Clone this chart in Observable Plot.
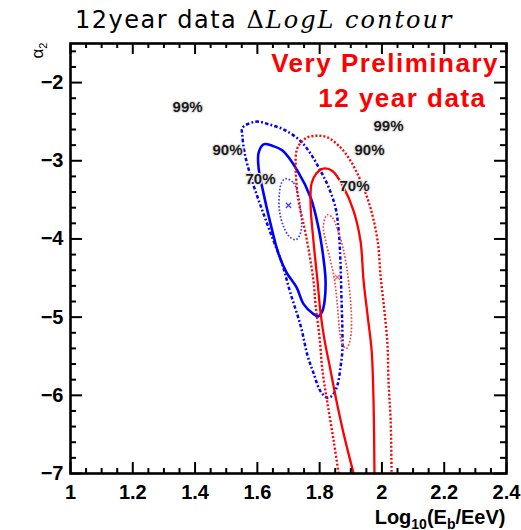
<!DOCTYPE html>
<html><head><meta charset="utf-8">
<script src="https://cdn.jsdelivr.net/npm/d3@7"></script>
<script src="https://cdn.jsdelivr.net/npm/@observablehq/plot@0.6"></script>
<style>
body{margin:0;background:#fff;}
#title{position:relative;height:40px;width:521px;font-family:'DejaVu Sans',sans-serif;font-size:24px;color:#000;}
#title .t{position:absolute;left:75px;top:8px;white-space:nowrap;line-height:24px;}
.s1{letter-spacing:1.5px;}
.m{font-family:'DejaVu Serif',serif;letter-spacing:2px;}
.mi{font-style:italic;}
#chart svg{display:block;}
</style></head><body>
<div id="title"><span class="t"><span class="s1">12year data </span><span class="m">Δ<span class="mi">LogL contour</span></span></span></div>
<div id="chart"></div>
<script>
// contour points [log10(Eb/EeV), alpha2]
const blue99 = [[1.552,-2.58],[1.594,-2.50],[1.642,-2.54],[1.690,-2.61],[1.739,-2.75],[1.771,-2.91],[1.803,-3.13],[1.829,-3.34],[1.851,-3.60],[1.861,-3.89],[1.867,-4.31],[1.870,-4.75],[1.873,-5.17],[1.873,-5.43],[1.867,-5.64],[1.857,-5.87],[1.841,-6.00],[1.825,-6.03],[1.803,-5.95],[1.780,-5.71],[1.761,-5.49],[1.739,-5.11],[1.706,-4.69],[1.678,-4.30],[1.642,-3.92],[1.610,-3.57],[1.581,-3.23],[1.559,-2.90],[1.552,-2.68]];
const blue90 = [[1.620,-2.79],[1.649,-2.81],[1.681,-2.87],[1.729,-3.13],[1.771,-3.47],[1.796,-3.85],[1.812,-4.24],[1.819,-4.53],[1.816,-4.79],[1.809,-4.92],[1.796,-4.99],[1.777,-4.95],[1.748,-4.83],[1.726,-4.62],[1.694,-4.43],[1.668,-4.19],[1.642,-3.80],[1.620,-3.42],[1.604,-3.09],[1.604,-2.90]];
const blue70 = [[1.690,-3.23],[1.716,-3.28],[1.732,-3.45],[1.739,-3.64],[1.742,-3.84],[1.735,-3.96],[1.723,-4.01],[1.703,-3.97],[1.684,-3.84],[1.671,-3.64],[1.671,-3.41],[1.678,-3.28]];
const red99 = [[1.861,-7.00],[1.845,-6.58],[1.825,-6.10],[1.809,-5.68],[1.800,-5.27],[1.787,-4.85],[1.780,-4.53],[1.755,-3.93],[1.732,-3.51],[1.723,-3.09],[1.726,-2.87],[1.739,-2.77],[1.761,-2.70],[1.793,-2.68],[1.825,-2.70],[1.867,-2.83],[1.899,-3.00],[1.931,-3.25],[1.963,-3.60],[1.986,-4.02],[1.996,-4.49],[2.008,-4.92],[2.018,-5.36],[2.021,-5.81],[2.028,-6.32],[2.031,-7.00]];
const red90 = [[1.909,-7.00],[1.877,-6.49],[1.854,-6.07],[1.832,-5.62],[1.816,-5.30],[1.803,-4.95],[1.793,-4.53],[1.780,-4.02],[1.771,-3.57],[1.774,-3.29],[1.790,-3.16],[1.812,-3.10],[1.841,-3.13],[1.877,-3.34],[1.909,-3.64],[1.931,-4.02],[1.941,-4.53],[1.954,-4.98],[1.967,-5.43],[1.973,-6.07],[1.976,-7.00]];
const red70 = [[1.825,-3.69],[1.841,-3.73],[1.857,-3.87],[1.873,-4.08],[1.886,-4.34],[1.896,-4.66],[1.902,-4.98],[1.899,-5.27],[1.886,-5.40],[1.873,-5.35],[1.864,-5.17],[1.857,-4.85],[1.848,-4.53],[1.835,-4.28],[1.819,-4.02],[1.812,-3.83]];

const bestBlue = [[1.700,-3.57]];
const bestRed = [[1.857,-4.49]];

const pctText = ["99%","90%","70%","99%","90%","70%"];
const pctX = [1.376,1.504,1.610,2.021,1.960,1.912];
const pctY = [-2.32,-2.86,-3.23,-2.56,-2.87,-3.33];

const noteText = ["Very Preliminary","12 year data"];
const noteX = [2.376,2.336];
const noteY = [-1.86,-2.31];

const xTicks = [1,1.2,1.4,1.6,1.8,2,2.2,2.4];
const yTicks = [-7,-6,-5,-4,-3,-2];
const xMinor = d3.range(0,29).map(i => 1 + i*0.05).filter(v => Math.abs(v*5 - Math.round(v*5)) > 1e-6);
const yMinor = d3.range(0,28).map(i => -7 + i*0.2).filter(v => Math.abs(v - Math.round(v)) > 1e-6);

const W = 521, H = 490, mL = 70, mR = 15, mT = 3, mB = 57;
const innerW = W - mL - mR, innerH = H - mT - mB;
const fx = d => d[0], fy = d => d[1];
const fmtY = d => (d < 0 ? "\u2212" : "") + Math.abs(d);

const svg = Plot.plot({
  width: W, height: H,
  marginLeft: mL, marginRight: mR, marginTop: mT, marginBottom: mB,
  x: {domain: [1, 2.4], axis: null},
  y: {domain: [-7, -1.5], axis: null},
  style: {fontFamily: "'Liberation Sans', Arial, sans-serif", background: "white", color: "black", overflow: "visible"},
  marks: [
    Plot.line(blue99, {x: fx, y: fy, curve: "catmull-rom-closed", stroke: "#0000ff", strokeWidth: 2.5, strokeDasharray: "3.5,2.2,1.8,2.2", strokeLinecap: "butt"}),
    Plot.line(blue90, {x: fx, y: fy, curve: "catmull-rom-closed", stroke: "#0000ff", strokeWidth: 2.6}),
    Plot.line(blue70, {x: fx, y: fy, curve: "catmull-rom-closed", stroke: "#3a3aff", strokeWidth: 1.7, strokeDasharray: "1.6,1.8", strokeLinecap: "butt"}),
    Plot.line(red99, {x: fx, y: fy, curve: "catmull-rom", stroke: "#ff0000", strokeWidth: 2.4, strokeDasharray: "2,2", strokeLinecap: "butt"}),
    Plot.line(red90, {x: fx, y: fy, curve: "catmull-rom", stroke: "#ff0000", strokeWidth: 2.3}),
    Plot.line(red70, {x: fx, y: fy, curve: "catmull-rom-closed", stroke: "#ff3a3a", strokeWidth: 1.7, strokeDasharray: "1.6,1.8", strokeLinecap: "butt"}),
    Plot.dot(bestBlue, {x: fx, y: fy, symbol: "times", r: 2.5, stroke: "#3a3aff", strokeWidth: 1.2}),
    Plot.dot(bestRed, {x: fx, y: fy, symbol: "times", r: 2.5, stroke: "#ff6060", strokeWidth: 1.2}),
    // ticks (inward, all four sides)
    Plot.ruleX(xTicks, {x: d => d, insetTop: innerH - 11, stroke: "black", strokeWidth: 2}),
    Plot.ruleX(xTicks, {x: d => d, insetBottom: innerH - 11, stroke: "black", strokeWidth: 2}),
    Plot.ruleX(xMinor, {x: d => d, insetTop: innerH - 5, stroke: "black", strokeWidth: 2}),
    Plot.ruleX(xMinor, {x: d => d, insetBottom: innerH - 5, stroke: "black", strokeWidth: 2}),
    Plot.ruleY(yTicks, {y: d => d, insetRight: innerW - 12, stroke: "black", strokeWidth: 2}),
    Plot.ruleY(yTicks, {y: d => d, insetLeft: innerW - 12, stroke: "black", strokeWidth: 2}),
    Plot.ruleY(yMinor, {y: d => d, insetRight: innerW - 6, stroke: "black", strokeWidth: 2}),
    Plot.ruleY(yMinor, {y: d => d, insetLeft: innerW - 6, stroke: "black", strokeWidth: 2}),
    Plot.frame({stroke: "black", strokeWidth: 2.6}),
    // tick labels
    Plot.text(xTicks, {x: d => d, frameAnchor: "bottom", dy: 11, lineAnchor: "top", text: d => String(d), fontSize: 20, fontWeight: "bold", fill: "black"}),
    Plot.text(yTicks, {y: d => d, frameAnchor: "left", dx: -7, textAnchor: "end", text: fmtY, fontSize: 20, fontWeight: "bold", fill: "black"}),
    // axis titles
    Plot.text(["Log10(Eb/EeV)"], {frameAnchor: "bottom-right", textAnchor: "end", lineAnchor: "bottom", dx: -1, dy: 50, text: d => d, fontSize: 20, fontWeight: "bold", fill: "black"}),
    Plot.text(["α2"], {frameAnchor: "top-left", textAnchor: "end", lineAnchor: "middle", rotate: -90, dx: -33, dy: -1, text: d => d, fontSize: 17, fill: "black"}),
    // annotations
    Plot.text(noteText, {x: (d, i) => noteX[i], y: (d, i) => noteY[i], text: d => d, textAnchor: "end", lineAnchor: "bottom", fontSize: 26, fontWeight: "bold", fill: "#ff0000"}),
    Plot.text(pctText, {x: (d, i) => pctX[i], y: (d, i) => pctY[i], text: d => d, fontSize: 15, fontWeight: "bold", fill: "#1a1a1a", stroke: "#e4e4e4", strokeWidth: 2.5})
  ]
});

d3.select(svg).selectAll("text").each(function() {
  const t = this.textContent;
  const sel = d3.select(this);
  if (t === "Log10(Eb/EeV)") {
    sel.text(null);
    sel.append("tspan").text("Log");
    sel.append("tspan").attr("font-size", 14).attr("dy", 5).text("10");
    sel.append("tspan").attr("dy", -5).text("(E");
    sel.append("tspan").attr("font-size", 14).attr("dy", 5).text("b");
    sel.append("tspan").attr("dy", -5).text("/EeV)");
  } else if (t === "α2") {
    sel.text(null);
    sel.append("tspan").text("α");
    sel.append("tspan").attr("font-size", 11).attr("dy", 4).text("2");
  } else if (t === "Very Preliminary" || t === "12 year data") {
    this.style.letterSpacing = "1.5px";
  }
});

document.getElementById("chart").appendChild(svg);
</script>
</body></html>
